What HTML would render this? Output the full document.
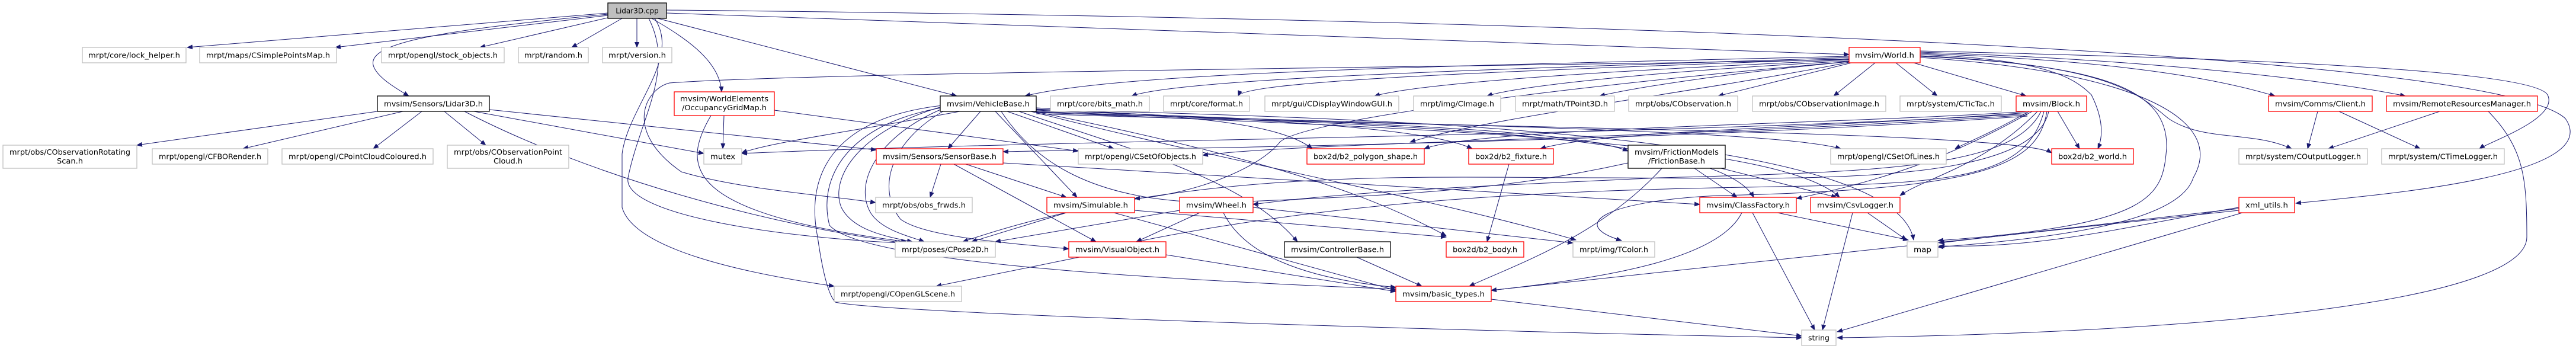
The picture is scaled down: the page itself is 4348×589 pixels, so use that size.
<!DOCTYPE html>
<html><head><meta charset="utf-8"><style>
html,body{margin:0;padding:0;background:#fff;}
svg{display:block;}
text{font-family:"DejaVu Sans","Liberation Sans",sans-serif;font-size:12px;fill:#000;}
.g{fill:#fff;stroke:#bfbfbf;stroke-width:1.3}
.r{fill:#fff;stroke:#ff0000;stroke-width:1.3}
.k{fill:#fff;stroke:#000;stroke-width:1.3}
.e{fill:none;stroke:#191970;stroke-width:1}
</style></head><body>
<svg width="4348" height="589" viewBox="0 0 4348 589" xmlns="http://www.w3.org/2000/svg">
<defs><marker id="a" markerWidth="10" markerHeight="8" refX="9" refY="4" orient="auto" markerUnits="userSpaceOnUse"><path d="M0,0 L10,4 L0,8 z" fill="#191970"/></marker></defs>
<g class="e" marker-end="url(#a)">
<path d="M1026,22 L316,80"/>
<path d="M1026,26 L566,80"/>
<path d="M1030,29 L810,80"/>
<path d="M1050,31 L965,80"/>
<path d="M1075,31 L1075,80"/>
<path d="M1026,24 C760,50 620,70 630,110 C635,130 670,150 690,162"/>
<path d="M1100,31 C1150,60 1215,100 1218,155"/>
<path d="M1110,31 L1615,162"/>
<path d="M1125,22 L3121,92"/>
<path d="M1125,17 C2500,30 4200,80 4330,200 C4400,300 4000,330 3875,343"/>
<path d="M1105,31 C1150,100 1060,180 1050,260 L1050,350 C1070,420 1250,460 1408,483"/>
<path d="M1095,31 C1140,120 1080,200 1060,300 C1050,360 1300,400 1520,410"/>
<path d="M637,188 L231,245"/>
<path d="M680,188 L410,251"/>
<path d="M712,188 L630,251"/>
<path d="M750,188 L820,245"/>
<path d="M800,188 L1188,259"/>
<path d="M826,185 L1479,253"/>
<path d="M784,188 C1000,300 1300,380 1525,410"/>
<path d="M1222,195 L1220,251"/>
<path d="M1307,186 L1820,255"/>
<path d="M1200,195 C1150,280 1150,360 1530,408"/>
<path d="M3121,95 C2500,110 1900,120 1730,162"/>
<path d="M3121,97 C2600,115 2000,130 1910,162"/>
<path d="M3121,99 C2600,118 2100,135 2090,162"/>
<path d="M3121,101 C2700,120 2400,140 2320,162"/>
<path d="M3121,103 C2800,120 2560,145 2510,162"/>
<path d="M3121,104 C2900,125 2750,150 2700,162"/>
<path d="M3125,106 L2900,162"/>
<path d="M3165,106 L3095,162"/>
<path d="M3200,106 L3270,162"/>
<path d="M3230,106 L3420,162"/>
<path d="M3241,90 C3500,100 3700,120 3840,162"/>
<path d="M3241,88 C3600,100 3900,130 4060,162"/>
<path d="M3241,86 C3600,95 4270,110 4300,160 C4320,200 4200,240 4185,251"/>
<path d="M3241,92 C3450,100 3500,130 3530,160 C3550,200 3550,230 3541,251"/>
<path d="M3241,94 C3550,110 3600,150 3660,200 C3720,240 3800,220 3868,251"/>
<path d="M3241,95 C3550,110 3660,150 3657,250 C3650,330 3640,380 3271,406"/>
<path d="M3241,97 C3600,120 3760,200 3702,300 C3680,370 3500,400 3271,417"/>
<path d="M3121,100 C2800,110 1400,120 1130,140 C1090,150 1050,220 1150,290 C1250,320 1400,330 1478,342"/>
<path d="M3121,104 C2700,140 2200,200 2160,240 C2120,290 2000,330 1915,335"/>
<path d="M3121,105 C2900,150 2500,200 2380,240"/>
<path d="M4200,188 C4260,250 4265,300 4265,400 C4265,500 3800,560 3101,570"/>
<path d="M3779,355 L2517,490"/>
<path d="M3779,352 L3273,410"/>
<path d="M3779,350 C3600,380 3450,420 3273,415"/>
<path d="M3785,359 L3101,560"/>
<path d="M3473,188 L3510,251"/>
<path d="M3422,188 C3100,210 2500,215 2404,251"/>
<path d="M3422,190 C3100,215 2700,220 2600,251"/>
<path d="M3425,188 C3350,230 3320,240 3300,251"/>
<path d="M3422,192 C2800,230 1800,235 1252,259"/>
<path d="M3422,194 C2800,235 2200,240 2030,262"/>
<path d="M3422,196 C2800,240 2000,250 1693,256"/>
<path d="M3430,188 C3300,260 3200,300 3032,335"/>
<path d="M3439,188 C3350,280 3250,300 3207,330"/>
<path d="M3445,188 C3400,280 3200,290 2800,300 C2600,310 2300,320 2115,345"/>
<path d="M3450,188 C3420,300 3300,310 3000,315 C2700,320 2300,330 1918,408"/>
<path d="M3455,188 C3440,280 3350,320 2900,330 C2700,340 2650,380 2737,406"/>
<path d="M3458,188 C3430,320 3000,300 2700,300 C2400,300 2000,280 1625,408"/>
<path d="M1620,188 C1450,220 1300,240 1252,258"/>
<path d="M1655,188 L1600,251"/>
<path d="M1700,188 L1880,251"/>
<path d="M1680,188 L1818,333"/>
<path d="M1690,188 C1750,280 1850,330 2000,340"/>
<path d="M1590,180 C1450,220 1400,300 1420,350 C1440,390 1500,400 1540,408"/>
<path d="M1592,183 C1480,230 1440,310 1470,360 C1490,390 1540,400 1560,408"/>
<path d="M1595,186 C1500,240 1480,320 1520,370 C1560,400 1700,410 1804,420"/>
<path d="M1590,178 C1400,200 1360,300 1380,400 C1390,470 1400,500 1410,510 C1500,530 2500,560 3041,570"/>
<path d="M1588,182 C1430,210 1380,300 1400,380 C1450,440 1900,470 2356,488"/>
<path d="M1720,188 C1900,250 2100,300 2190,408"/>
<path d="M1749,182 C1950,195 2150,200 2215,251"/>
<path d="M1749,184 C2050,200 2400,210 2485,251"/>
<path d="M1749,186 C2200,205 2650,215 2748,255"/>
<path d="M1749,188 C2300,210 2900,220 2960,333"/>
<path d="M1749,189 C2300,215 3000,230 3105,333"/>
<path d="M1749,190 C2400,210 3000,220 3107,251"/>
<path d="M1749,192 C2400,215 3400,220 3463,258"/>
<path d="M1745,188 C2100,260 2300,320 2441,398"/>
<path d="M1740,188 C2100,280 2400,330 2660,405"/>
<path d="M1749,185 C2400,200 3200,230 3230,405"/>
<path d="M1588,277 L1570,333"/>
<path d="M1630,277 L1800,333"/>
<path d="M1610,277 L1850,408"/>
<path d="M1693,275 L2869,345"/>
<path d="M1800,359 L1640,408"/>
<path d="M1880,359 L2356,490"/>
<path d="M1915,355 L2441,400"/>
<path d="M1991,355 L1680,408"/>
<path d="M2025,359 L1918,408"/>
<path d="M2065,359 C2100,430 2200,470 2356,485"/>
<path d="M2115,350 L2655,410"/>
<path d="M1822,434 L1580,483"/>
<path d="M1968,430 L2356,492"/>
<path d="M2290,434 L2400,483"/>
<path d="M2547,277 L2510,408"/>
<path d="M2805,284 C2700,400 2550,450 2480,483"/>
<path d="M2860,284 L2932,333"/>
<path d="M2905,284 L3100,333"/>
<path d="M2748,275 C2500,330 2300,330 2000,345"/>
<path d="M2958,359 L3063,557"/>
<path d="M3000,359 L3221,405"/>
<path d="M2940,359 C2900,440 2700,470 2517,490"/>
<path d="M3127,359 L3076,557"/>
<path d="M3152,359 L3218,405"/>
<path d="M2517,505 L3041,567"/>
<path d="M3912,188 L3895,251"/>
<path d="M3948,188 L4085,251"/>
<path d="M4118,188 L3930,251"/>
</g>
<g>
<rect x="1026" y="5" width="99" height="26" fill="#bfbfbf" stroke="#000" stroke-width="1.3"/><text x="1075.5" y="22.5" text-anchor="middle">Lidar3D.cpp</text>
</g>
<g id="nodes">
<rect class="g" x="139" y="80" width="175" height="26"/><text x="226.5" y="97.5" text-anchor="middle" textLength="155" lengthAdjust="spacingAndGlyphs">mrpt/core/lock_helper.h</text>
<rect class="g" x="337" y="80" width="231" height="26"/><text x="452.5" y="97.5" text-anchor="middle" textLength="209" lengthAdjust="spacingAndGlyphs">mrpt/maps/CSimplePointsMap.h</text>
<rect class="g" x="644" y="80" width="207" height="26"/><text x="747.5" y="97.5" text-anchor="middle" textLength="185" lengthAdjust="spacingAndGlyphs">mrpt/opengl/stock_objects.h</text>
<rect class="g" x="875" y="80" width="118" height="26"/><text x="934" y="97.5" text-anchor="middle" textLength="98" lengthAdjust="spacingAndGlyphs">mrpt/random.h</text>
<rect class="g" x="1017" y="80" width="117" height="26"/><text x="1075.5" y="97.5" text-anchor="middle" textLength="97" lengthAdjust="spacingAndGlyphs">mrpt/version.h</text>
<rect class="r" x="3121" y="80" width="120" height="26"/><text x="3181" y="97.5" text-anchor="middle" textLength="100" lengthAdjust="spacingAndGlyphs">mvsim/World.h</text>

<rect class="k" x="637" y="162" width="189" height="26"/><text x="731.5" y="179.5" text-anchor="middle" textLength="167" lengthAdjust="spacingAndGlyphs">mvsim/Sensors/Lidar3D.h</text>
<rect class="r" x="1138" y="155" width="169" height="40"/><text x="1222.5" y="171" text-anchor="middle" textLength="149" lengthAdjust="spacingAndGlyphs">mvsim/WorldElements</text><text x="1222.5" y="186" text-anchor="middle" textLength="143" lengthAdjust="spacingAndGlyphs">/OccupancyGridMap.h</text>
<rect class="k" x="1587" y="162" width="162" height="26"/><text x="1668" y="179.5" text-anchor="middle" textLength="140" lengthAdjust="spacingAndGlyphs">mvsim/VehicleBase.h</text>
<rect class="g" x="1773" y="162" width="167" height="26"/><text x="1856.5" y="179.5" text-anchor="middle" textLength="145" lengthAdjust="spacingAndGlyphs">mrpt/core/bits_math.h</text>
<rect class="g" x="1964" y="162" width="145" height="26"/><text x="2036.5" y="179.5" text-anchor="middle" textLength="123" lengthAdjust="spacingAndGlyphs">mrpt/core/format.h</text>
<rect class="g" x="2135" y="162" width="226" height="26"/><text x="2248" y="179.5" text-anchor="middle" textLength="204" lengthAdjust="spacingAndGlyphs">mrpt/gui/CDisplayWindowGUI.h</text>
<rect class="g" x="2386" y="162" width="147" height="26"/><text x="2459.5" y="179.5" text-anchor="middle" textLength="125" lengthAdjust="spacingAndGlyphs">mrpt/img/CImage.h</text>
<rect class="g" x="2558" y="162" width="167" height="26"/><text x="2641.5" y="179.5" text-anchor="middle" textLength="145" lengthAdjust="spacingAndGlyphs">mrpt/math/TPoint3D.h</text>
<rect class="g" x="2749" y="162" width="184" height="26"/><text x="2841" y="179.5" text-anchor="middle" textLength="162" lengthAdjust="spacingAndGlyphs">mrpt/obs/CObservation.h</text>
<rect class="g" x="2958" y="162" width="225" height="26"/><text x="3070.5" y="179.5" text-anchor="middle" textLength="203" lengthAdjust="spacingAndGlyphs">mrpt/obs/CObservationImage.h</text>
<rect class="g" x="3207" y="162" width="171" height="26"/><text x="3292.5" y="179.5" text-anchor="middle" textLength="149" lengthAdjust="spacingAndGlyphs">mrpt/system/CTicTac.h</text>
<rect class="r" x="3403" y="162" width="119" height="26"/><text x="3462.5" y="179.5" text-anchor="middle" textLength="97" lengthAdjust="spacingAndGlyphs">mvsim/Block.h</text>
<rect class="r" x="3829" y="162" width="175" height="26"/><text x="3916.5" y="179.5" text-anchor="middle" textLength="153" lengthAdjust="spacingAndGlyphs">mvsim/Comms/Client.h</text>
<rect class="r" x="4028" y="162" width="255" height="26"/><text x="4155.5" y="179.5" text-anchor="middle" textLength="233" lengthAdjust="spacingAndGlyphs">mvsim/RemoteResourcesManager.h</text>

<rect class="g" x="5" y="245" width="226" height="39"/><text x="118" y="261" text-anchor="middle" textLength="204" lengthAdjust="spacingAndGlyphs">mrpt/obs/CObservationRotating</text><text x="118" y="276" text-anchor="middle" textLength="44" lengthAdjust="spacingAndGlyphs">Scan.h</text>
<rect class="g" x="257" y="251" width="195" height="26"/><text x="354.5" y="268.5" text-anchor="middle" textLength="173" lengthAdjust="spacingAndGlyphs">mrpt/opengl/CFBORender.h</text>
<rect class="g" x="476" y="251" width="255" height="26"/><text x="603.5" y="268.5" text-anchor="middle" textLength="233" lengthAdjust="spacingAndGlyphs">mrpt/opengl/CPointCloudColoured.h</text>
<rect class="g" x="755" y="245" width="205" height="39"/><text x="857.5" y="261" text-anchor="middle" textLength="183" lengthAdjust="spacingAndGlyphs">mrpt/obs/CObservationPoint</text><text x="857.5" y="276" text-anchor="middle" textLength="49" lengthAdjust="spacingAndGlyphs">Cloud.h</text>
<rect class="g" x="1188" y="251" width="64" height="26"/><text x="1220" y="268.5" text-anchor="middle" textLength="42" lengthAdjust="spacingAndGlyphs">mutex</text>
<rect class="r" x="1479" y="251" width="214" height="26"/><text x="1586" y="268.5" text-anchor="middle" textLength="192" lengthAdjust="spacingAndGlyphs">mvsim/Sensors/SensorBase.h</text>
<rect class="g" x="1820" y="251" width="210" height="26"/><text x="1925" y="268.5" text-anchor="middle" textLength="188" lengthAdjust="spacingAndGlyphs">mrpt/opengl/CSetOfObjects.h</text>
<rect class="r" x="2206" y="251" width="198" height="26"/><text x="2305" y="268.5" text-anchor="middle" textLength="176" lengthAdjust="spacingAndGlyphs">box2d/b2_polygon_shape.h</text>
<rect class="r" x="2479" y="251" width="143" height="26"/><text x="2550.5" y="268.5" text-anchor="middle" textLength="121" lengthAdjust="spacingAndGlyphs">box2d/b2_fixture.h</text>
<rect class="k" x="2748" y="245" width="164" height="39"/><text x="2830" y="261" text-anchor="middle" textLength="142" lengthAdjust="spacingAndGlyphs">mvsim/FrictionModels</text><text x="2830" y="276" text-anchor="middle" textLength="96" lengthAdjust="spacingAndGlyphs">/FrictionBase.h</text>
<rect class="g" x="3090" y="251" width="195" height="26"/><text x="3187.5" y="268.5" text-anchor="middle" textLength="173" lengthAdjust="spacingAndGlyphs">mrpt/opengl/CSetOfLines.h</text>
<rect class="r" x="3463" y="251" width="138" height="26"/><text x="3532" y="268.5" text-anchor="middle" textLength="116" lengthAdjust="spacingAndGlyphs">box2d/b2_world.h</text>
<rect class="g" x="3779" y="251" width="217" height="26"/><text x="3887.5" y="268.5" text-anchor="middle" textLength="195" lengthAdjust="spacingAndGlyphs">mrpt/system/COutputLogger.h</text>
<rect class="g" x="4020" y="251" width="207" height="26"/><text x="4123.5" y="268.5" text-anchor="middle" textLength="185" lengthAdjust="spacingAndGlyphs">mrpt/system/CTimeLogger.h</text>

<rect class="g" x="1478" y="333" width="163" height="26"/><text x="1559.5" y="350.5" text-anchor="middle" textLength="141" lengthAdjust="spacingAndGlyphs">mrpt/obs/obs_frwds.h</text>
<rect class="r" x="1767" y="333" width="148" height="26"/><text x="1841" y="350.5" text-anchor="middle" textLength="126" lengthAdjust="spacingAndGlyphs">mvsim/Simulable.h</text>
<rect class="r" x="1991" y="333" width="124" height="26"/><text x="2053" y="350.5" text-anchor="middle" textLength="102" lengthAdjust="spacingAndGlyphs">mvsim/Wheel.h</text>
<rect class="r" x="2869" y="333" width="163" height="26"/><text x="2950.5" y="350.5" text-anchor="middle" textLength="141" lengthAdjust="spacingAndGlyphs">mvsim/ClassFactory.h</text>
<rect class="r" x="3056" y="333" width="151" height="26"/><text x="3131.5" y="350.5" text-anchor="middle" textLength="129" lengthAdjust="spacingAndGlyphs">mvsim/CsvLogger.h</text>
<rect class="r" x="3779" y="333" width="94" height="26"/><text x="3826" y="350.5" text-anchor="middle" textLength="72" lengthAdjust="spacingAndGlyphs">xml_utils.h</text>

<rect class="g" x="1511" y="408" width="169" height="26"/><text x="1595.5" y="425.5" text-anchor="middle" textLength="147" lengthAdjust="spacingAndGlyphs">mrpt/poses/CPose2D.h</text>
<rect class="r" x="1804" y="408" width="164" height="26"/><text x="1886" y="425.5" text-anchor="middle" textLength="142" lengthAdjust="spacingAndGlyphs">mvsim/VisualObject.h</text>
<rect class="k" x="2168" y="408" width="179" height="26"/><text x="2257.5" y="425.5" text-anchor="middle" textLength="157" lengthAdjust="spacingAndGlyphs">mvsim/ControllerBase.h</text>
<rect class="r" x="2441" y="408" width="131" height="26"/><text x="2506.5" y="425.5" text-anchor="middle" textLength="109" lengthAdjust="spacingAndGlyphs">box2d/b2_body.h</text>
<rect class="g" x="2655" y="408" width="138" height="26"/><text x="2724" y="425.5" text-anchor="middle" textLength="116" lengthAdjust="spacingAndGlyphs">mrpt/img/TColor.h</text>
<rect class="g" x="3219" y="408" width="52" height="26"/><text x="3245" y="425.5" text-anchor="middle" textLength="30" lengthAdjust="spacingAndGlyphs">map</text>

<rect class="g" x="1408" y="483" width="215" height="26"/><text x="1515.5" y="500.5" text-anchor="middle" textLength="193" lengthAdjust="spacingAndGlyphs">mrpt/opengl/COpenGLScene.h</text>
<rect class="r" x="2356" y="483" width="161" height="26"/><text x="2436.5" y="500.5" text-anchor="middle" textLength="139" lengthAdjust="spacingAndGlyphs">mvsim/basic_types.h</text>
<rect class="g" x="3041" y="557" width="58" height="26"/><text x="3070" y="574.5" text-anchor="middle" textLength="36" lengthAdjust="spacingAndGlyphs">string</text>
</g>
</svg>
</body></html>
